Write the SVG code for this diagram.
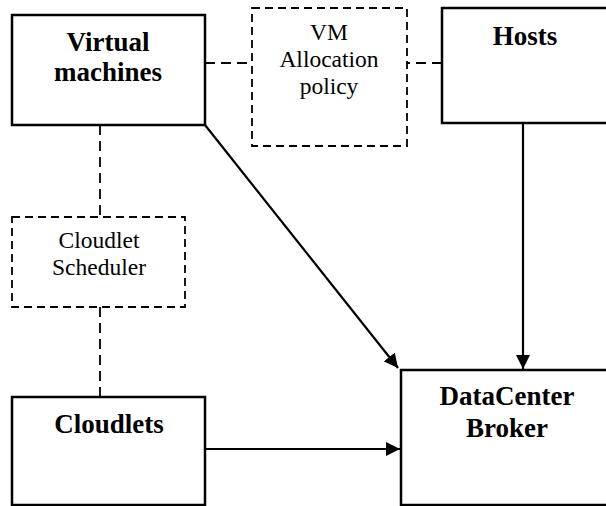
<svg xmlns="http://www.w3.org/2000/svg" width="606" height="506" viewBox="0 0 606 506">
<style>
.box{fill:#fff;stroke:#000;stroke-width:2.5}
.dbox{fill:#fff;stroke:#000;stroke-width:1.8;stroke-dasharray:8 5}
.dline{fill:none;stroke:#000;stroke-width:1.8;stroke-dasharray:10 6}
.line{fill:none;stroke:#000;stroke-width:2.2}
.b{font-family:"Liberation Serif","Times New Roman",serif;font-weight:bold;font-size:27px;text-anchor:middle;fill:#000}
.n{font-family:"Liberation Serif","Times New Roman",serif;font-size:23.5px;text-anchor:middle;fill:#000}
</style>
<defs>
<marker id="arr" viewBox="0 0 10 10" refX="10" refY="5" markerWidth="14" markerHeight="14" markerUnits="userSpaceOnUse" orient="auto">
<path d="M0,0 L10,5 L0,10 Z" fill="#000"/>
</marker>
</defs>
<rect width="606" height="506" fill="#fff"/>
<g id="connectors">
<line class="dline" x1="205" y1="63" x2="252" y2="63"/>
<line class="dline" x1="442" y1="63" x2="407" y2="63"/>
<line class="dline" x1="100" y1="125" x2="100" y2="217"/>
<line class="dline" x1="100" y1="397" x2="100" y2="307"/>
<line class="line" x1="205" y1="125" x2="398" y2="368" marker-end="url(#arr)"/>
<line class="line" x1="523" y1="123" x2="523" y2="369" marker-end="url(#arr)"/>
<line class="line" x1="205" y1="449" x2="400" y2="449" marker-end="url(#arr)"/>
</g>
<g id="vm">
<rect class="box" x="12" y="15" width="193" height="110"/>
<text class="b" x="108" y="51">Virtual</text>
<text class="b" x="108" y="81">machines</text>
</g>
<g id="policy">
<rect class="dbox" x="252" y="8" width="155" height="138"/>
<text class="n" x="329" y="40">VM</text>
<text class="n" x="329" y="67">Allocation</text>
<text class="n" x="329" y="94">policy</text>
</g>
<g id="hosts">
<rect class="box" x="442" y="8" width="166" height="115"/>
<text class="b" x="525" y="45">Hosts</text>
</g>
<g id="scheduler">
<rect class="dbox" x="12" y="217" width="173" height="90"/>
<text class="n" x="99" y="248">Cloudlet</text>
<text class="n" x="99" y="275">Scheduler</text>
</g>
<g id="cloudlets">
<rect class="box" x="12" y="397" width="193" height="108"/>
<text class="b" x="109" y="433">Cloudlets</text>
</g>
<g id="broker">
<rect class="box" x="401" y="370" width="207" height="135"/>
<text class="b" x="507" y="405">DataCenter</text>
<text class="b" x="507" y="437">Broker</text>
</g>
</svg>
